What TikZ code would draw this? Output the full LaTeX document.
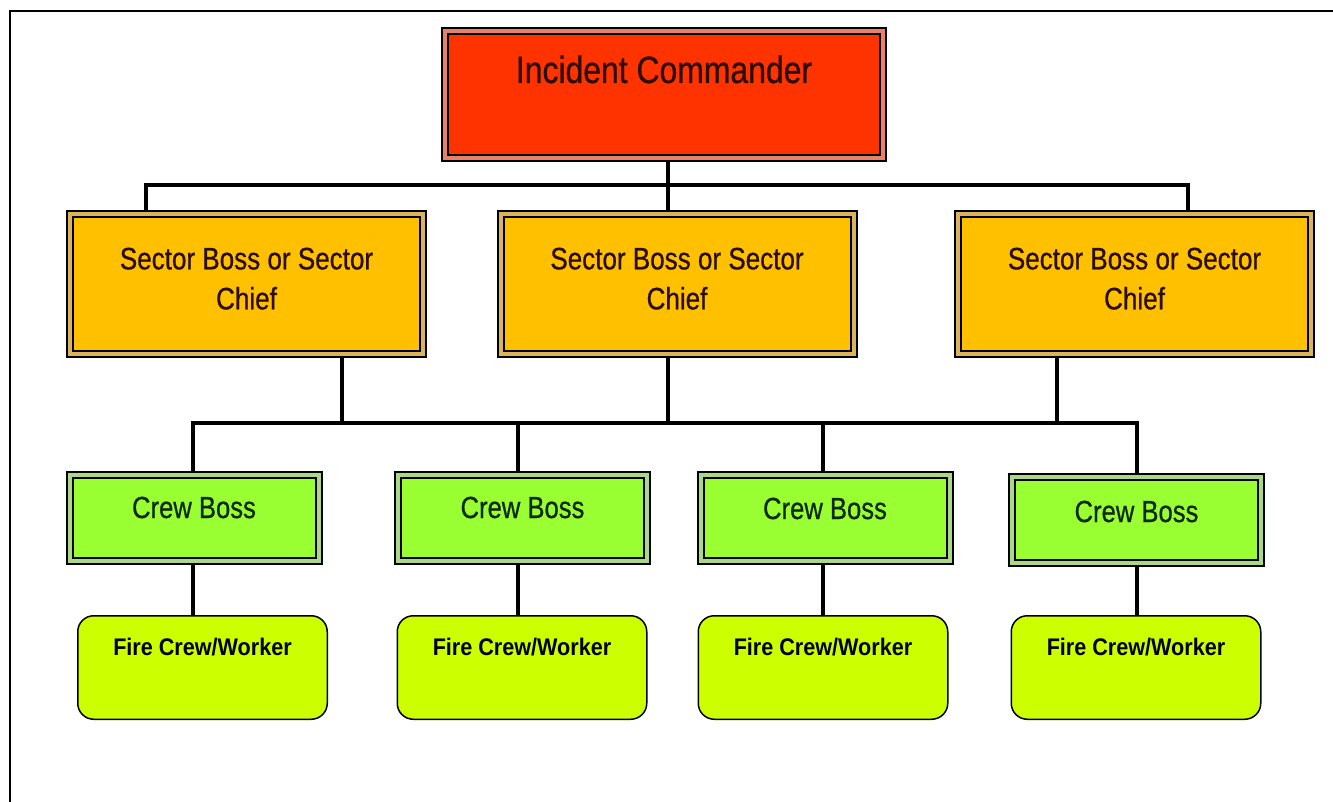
\documentclass[tikz,border=0pt]{standalone}
\usepackage{fontspec}
\setmainfont{Liberation Sans}[FakeStretch=0.84, FakeBold=0.7]
\newfontfamily\firefont{Liberation Sans}[FakeStretch=0.9]
\usetikzlibrary{backgrounds}
\definecolor{icfill}{HTML}{FF3300}
\definecolor{icband}{HTML}{E8806A}
\definecolor{secfill}{HTML}{FFC000}
\definecolor{secband}{HTML}{D9B45A}
\definecolor{crewfill}{HTML}{99FF33}
\definecolor{crewband}{HTML}{A8D888}
\definecolor{firefill}{HTML}{CCFF00}
\definecolor{txtbrown}{HTML}{2B0E00}
\definecolor{txtgreen}{HTML}{0F2A0A}
\begin{document}
\begin{tikzpicture}[x=1pt,y=-1pt,
  dbox/.style={draw=black, line width=2pt, double distance=4pt, inner sep=0pt, outer sep=0pt},
  icbox/.style={dbox, fill=icfill, double=icband, minimum width=438pt, minimum height=127pt},
  secbox/.style={dbox, fill=secfill, double=secband, minimum width=353pt, minimum height=140pt},
  crewbox/.style={dbox, fill=crewfill, double=crewband, minimum width=249pt, minimum height=86pt},
  firebox/.style={draw=black, line width=1.5pt, fill=firefill, rounded corners=16pt, inner sep=0pt, outer sep=0pt, minimum width=249.5pt, minimum height=103.5pt},
  ictxt/.style={anchor=base, inner sep=0pt, text=txtbrown, font=\fontsize{38}{44}\selectfont},
  sectxt/.style={anchor=north, inner sep=0pt, align=center, text=txtbrown, font=\fontsize{31}{40}\selectfont},
  crewtxt/.style={anchor=base, inner sep=0pt, text=txtgreen, font=\fontsize{30.5}{36}\selectfont},
  firetxt/.style={anchor=base, inner sep=0pt, text=black, font=\firefont\bfseries\fontsize{24}{28}\selectfont},
  conn/.style={draw=black, line width=4pt, line cap=rect, line join=miter}
]
\useasboundingbox (0,0) rectangle (1333,802);
\draw[line width=2pt] (10,802) -- (10,11) -- (1333,11);

% boxes
\node[icbox] (ic) at (664,94.5) {};
\node[secbox] (s1) at (246.5,284) {};
\node[secbox] (s2) at (677,284) {};
\node[secbox] (s3) at (1134.5,284) {};
\node[crewbox] (c1) at (194,518) {};
\node[crewbox] (c2) at (522.5,518) {};
\node[crewbox] (c3) at (825,518) {};
\node[crewbox] (c4) at (1136.5,520) {};
\node[firebox] (f1) at (202.5,667.5) {};
\node[firebox] (f2) at (522,667.5) {};
\node[firebox] (f3) at (823,667.5) {};
\node[firebox] (f4) at (1136,667.5) {};

% texts
\node[ictxt] (ict) at (664,83) {Incident Commander};
\node[sectxt] (s1t) at (246.5,247.5) {Sector Boss or Sector\\Chief};
\node[sectxt] (s2t) at (677,247.5) {Sector Boss or Sector\\Chief};
\node[sectxt] (s3t) at (1134.5,247.5) {Sector Boss or Sector\\Chief};
\node[crewtxt] (c1t) at (194,518) {Crew Boss};
\node[crewtxt] (c2t) at (522.5,518) {Crew Boss};
\node[crewtxt] (c3t) at (825,519) {Crew Boss};
\node[crewtxt] (c4t) at (1136.5,522) {Crew Boss};
\node[firetxt] (f1t) at (202.5,655) {Fire Crew/Worker};
\node[firetxt] (f2t) at (522,655) {Fire Crew/Worker};
\node[firetxt] (f3t) at (823,655) {Fire Crew/Worker};
\node[firetxt] (f4t) at (1136,655) {Fire Crew/Worker};

% bus points
\coordinate (j1) at (146,185);
\coordinate (j2) at (668,185);
\coordinate (j3) at (1188,185);
\coordinate (m1) at (342,423);
\coordinate (m2) at (668,423);
\coordinate (m3) at (1057,423);
\coordinate (k1) at (193,423);
\coordinate (k2) at (518,423);
\coordinate (k3) at (823,423);
\coordinate (k4) at (1137,423);

\begin{pgfonlayer}{background}
\draw[conn] (j1 |- s1.north) -- (j1) -- (j3) -- (j3 |- s3.north);
\draw[conn] (j2 |- ic.south) -- (j2 |- s2.north);
\draw[conn] (k1 |- c1.north) -- (k1) -- (k4) -- (k4 |- c4.north);
\draw[conn] (m1 |- s1.south) -- (m1);
\draw[conn] (m2 |- s2.south) -- (m2);
\draw[conn] (m3 |- s3.south) -- (m3);
\draw[conn] (k2) -- (k2 |- c2.north);
\draw[conn] (k3) -- (k3 |- c3.north);
\draw[conn] (k1 |- c1.south) -- (k1 |- f1.north);
\draw[conn] (k2 |- c2.south) -- (k2 |- f2.north);
\draw[conn] (k3 |- c3.south) -- (k3 |- f3.north);
\draw[conn] (k4 |- c4.south) -- (k4 |- f4.north);
\end{pgfonlayer}
\end{tikzpicture}
\end{document}
